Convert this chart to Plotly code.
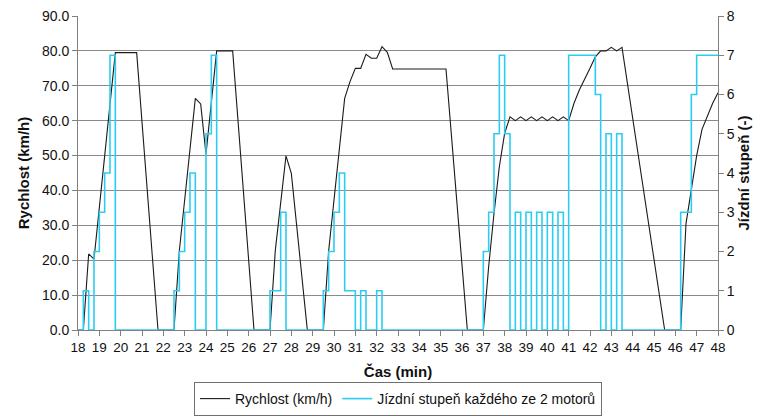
import plotly.graph_objects as go

# Speed (km/h) vs time (min)
spd_t = [18.0, 18.25, 18.5, 18.75, 19.75, 20.75, 21.75, 22.5, 22.75, 23.5, 23.75, 24.0,
         24.5, 25.25, 26.25, 27.0, 27.25, 27.75, 28.0, 28.75, 29.5, 29.75, 30.5, 30.75,
         31.0, 31.25, 31.5, 31.75, 32.0, 32.25, 32.5, 32.75, 35.25, 36.25, 37.0, 37.25,
         37.5, 37.75, 38.0, 38.25, 38.5, 38.75, 39.0, 39.25, 39.5, 39.75, 40.0, 40.25,
         40.5, 40.75, 41.0, 41.25, 41.5, 41.75, 42.0, 42.25, 42.5, 42.75, 43.0, 43.25,
         43.5, 45.5, 46.25, 46.5, 46.75, 47.0, 47.25, 47.5, 47.75, 48.0]
spd_v = [0, 0, 21.8, 20.3, 79.5, 79.5, 0, 0, 22.7, 66.4, 64.8, 50.4,
         80.0, 80.0, 0, 0, 22.9, 49.9, 44.9, 0, 0, 22.7, 66.4, 71.2,
         75.0, 75.0, 79.0, 77.9, 77.9, 81.2, 79.6, 74.8, 74.8, 0, 0, 18.2,
         33.4, 46.8, 56.4, 61.1, 60.0, 61.1, 60.0, 61.1, 60.0, 61.1, 60.0, 61.1,
         60.0, 61.1, 60.0, 65.0, 68.8, 71.7, 75.0, 78.3, 80.0, 80.0, 81.0, 80.0,
         81.0, 0, 0, 30.5, 40.0, 50.0, 57.5, 61.5, 65.0, 68.0]

# Gear of each of 2 motors (step changes)
gear_t = [18.0, 18.25, 18.5, 18.75, 19.0, 19.25, 19.5, 19.75,
          22.5, 22.75, 23.0, 23.25, 23.5, 24.0, 24.25, 24.5,
          27.0, 27.5, 27.75,
          29.5, 29.75, 30.0, 30.25, 30.5, 31.0, 31.25, 31.5, 32.0, 32.25,
          37.0, 37.25, 37.5, 37.75, 38.0, 38.25, 38.5, 38.75, 39.0, 39.25, 39.5,
          39.75, 40.0, 40.25, 40.5, 40.75, 41.0,
          42.25, 42.5, 42.75, 43.0, 43.25, 43.5,
          46.25, 46.75, 47.0, 48.0]
gear_v = [0, 1, 0, 2, 3, 4, 7, 0,
          1, 2, 3, 4, 0, 5, 7, 0,
          1, 3, 0,
          1, 2, 3, 4, 1, 0, 1, 0, 1, 0,
          2, 3, 5, 7, 5, 0, 3, 0, 3, 0, 3,
          0, 3, 0, 3, 0, 7,
          6, 0, 5, 0, 5, 0,
          3, 6, 7, 7]

x_ticks = list(range(18, 49))

FONT = "Liberation Sans, Arial, sans-serif"
H = 416
TOP = 16
BOTTOM_PLOT = 330
PLOT_H = BOTTOM_PLOT - TOP
legend_top_px = 382
legend_y = (BOTTOM_PLOT - legend_top_px) / PLOT_H

fig = go.Figure()
fig.add_trace(go.Scatter(
    x=spd_t, y=spd_v, mode="lines", name="Rychlost (km/h)",
    line=dict(color="#1a1a1a", width=1.1), yaxis="y"))
fig.add_trace(go.Scatter(
    x=gear_t, y=gear_v, mode="lines", name="Jízdní stupeň každého ze 2 motorů",
    line=dict(color="#2ccdf2", width=1.6, shape="hv"), yaxis="y2"))

fig.update_layout(
    width=760, height=H,
    margin=dict(l=78, r=42, t=TOP, b=H - BOTTOM_PLOT, autoexpand=False),
    paper_bgcolor="white", plot_bgcolor="rgba(0,0,0,0)",
    font=dict(family=FONT, size=14, color="#111"),
    showlegend=True,
    legend=dict(orientation="h", x=0.5, xanchor="center", y=legend_y, yanchor="top",
                bordercolor="#707070", borderwidth=1, bgcolor="white",
                font=dict(size=14, family=FONT), itemwidth=30,
                tracegroupgap=0),
    xaxis=dict(range=[18, 48], tickvals=x_ticks, ticktext=[str(v) for v in x_ticks],
               showgrid=False, zeroline=False, showline=True, linecolor="#808080",
               ticks="outside", ticklen=5, tickcolor="#808080",
               tickfont=dict(size=13.5, family=FONT),
               title=dict(text="<b>Čas (min)</b>", font=dict(size=15, family=FONT), standoff=12)),
    yaxis=dict(range=[0, 90], dtick=10, tickformat=".1f",
               showgrid=True, gridcolor="#8a8a8a", gridwidth=1, zeroline=False,
               showline=True, linecolor="#808080", ticks="outside", ticklen=5,
               tickcolor="#808080", tickfont=dict(size=14, family=FONT),
               title=dict(text="<b>Rychlost (km/h)</b>", font=dict(size=15, family=FONT), standoff=8)),
    yaxis2=dict(range=[0, 8], dtick=1, overlaying="y", side="right",
                showgrid=False, zeroline=False, showline=True, linecolor="#808080",
                ticks="outside", ticklen=5, tickcolor="#808080",
                tickfont=dict(size=14, family=FONT),
                title=dict(text="<b>Jízdní stupeň (-)</b>", font=dict(size=15, family=FONT), standoff=4)),
)

fig.write_html("out.html")
